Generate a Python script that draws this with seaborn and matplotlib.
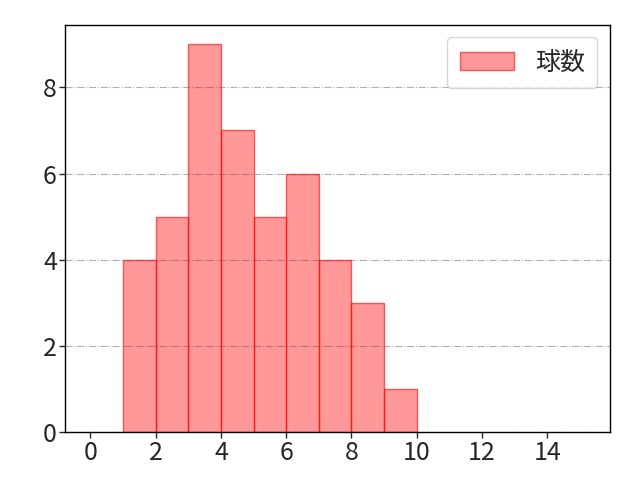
import numpy as np
import pandas as pd
import matplotlib
matplotlib.use("Agg")
import matplotlib.pyplot as plt
import seaborn as sns

# --- data ---
bin_edges = list(range(1, 11))
bin_left = [1, 2, 3, 4, 5, 6, 7, 8, 9]
counts = [4, 5, 9, 7, 5, 6, 4, 3, 1]
series_label = "球数"

sns.set_style("white")
plt.rcParams['font.family'] = ['Noto Sans CJK JP', 'DejaVu Sans']

df = pd.DataFrame({"x": np.array(bin_left) + 0.5, "n": counts})

fig, ax = plt.subplots(figsize=(6.4, 4.8), dpi=100)
fig.subplots_adjust(left=0.102, right=0.953, top=0.948, bottom=0.1)

sns.histplot(data=df, x="x", weights="n", bins=bin_edges, ax=ax,
             color=(1.0, 0.0, 0.0, 0.4), edgecolor=(1.0, 0.0, 0.0, 0.6),
             linewidth=1.0, alpha=None, label=series_label)

ax.set_xlim(-0.77, 15.92)
ax.set_ylim(0, 9.45)
ax.set_xticks([0, 2, 4, 6, 8, 10, 12, 14])
ax.set_yticks([0, 2, 4, 6, 8])
ax.set_xlabel("")
ax.set_ylabel("")
ax.yaxis.grid(True, linestyle='-.', color='#b0b0b0', linewidth=0.8)
ax.xaxis.grid(False)
ax.tick_params(axis='both', labelsize=18, length=4, width=1, pad=2,
               bottom=True, left=True)
for s in ax.spines.values():
    s.set_color('black')
    s.set_linewidth(1.0)

ax.legend(loc='upper right', fontsize=18, handlelength=2.15, handletextpad=0.85,
          borderpad=0.5, frameon=True)

fig.savefig("out.png", dpi=100)
